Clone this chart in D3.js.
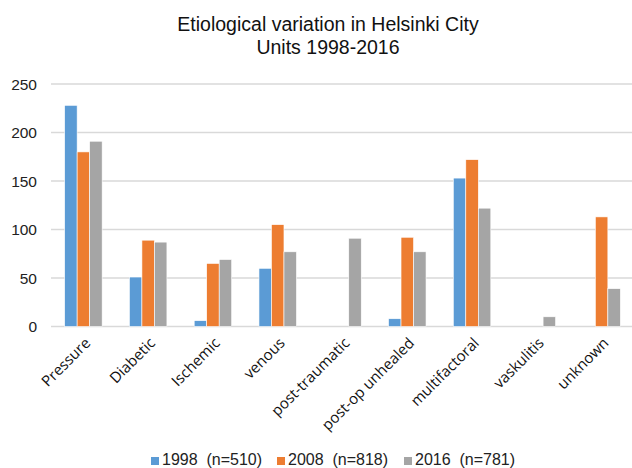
<!DOCTYPE html>
<html>
<head>
<meta charset="utf-8">
<script src="https://cdn.jsdelivr.net/npm/d3@7"></script>
<style>
  body { margin: 0; background: #fff; }
  svg { display: block; }
</style>
</head>
<body>
<div id="chart"></div>
<script>
// etiology categories along the x axis
const categories = ["Pressure", "Diabetic", "Ischemic", "venous", "post-traumatic",
  "post-op unhealed", "multifactoral", "vaskulitis", "unknown"];

// one array per year (0 = no bar)
const values1998 = [228, 51, 6, 60, 0, 8, 153, 0, 0];
const values2008 = [180, 89, 65, 105, 0, 92, 172, 0, 113];
const values2016 = [191, 87, 69, 77, 91, 77, 122, 10, 39];

const seriesNames = ["1998  (n=510)", "2008  (n=818)", "2016  (n=781)"];
const colors = ["#5B9BD5", "#ED7D31", "#A5A5A5"];
const yTicks = [0, 50, 100, 150, 200, 250];

const W = 632, H = 468;
const plotLeft = 51, plotRight = 634, plotTop = 84, plotBottom = 326.5;

const svg = d3.select("#chart").append("svg")
  .attr("width", W).attr("height", H)
  .style("font-family", "'Liberation Sans', Arial, sans-serif");

// title
const title = svg.append("text")
  .attr("text-anchor", "middle")
  .attr("font-size", 19.5).attr("fill", "#111");
title.append("tspan").attr("x", 328).attr("y", 31).text("Etiological variation in Helsinki City");
title.append("tspan").attr("x", 328).attr("y", 54).text("Units 1998-2016");

const x = d3.scaleBand().domain(categories).range([plotLeft, plotRight]).padding(0);
const y = d3.scaleLinear().domain([0, 250]).range([plotBottom, plotTop]);

// gridlines
svg.append("g").selectAll("line")
  .data(yTicks)
  .enter().append("line")
  .attr("x1", plotLeft).attr("x2", W)
  .attr("y1", d => y(d)).attr("y2", d => y(d))
  .attr("stroke", "#d9d9d9")
  .attr("stroke-width", d => d === 0 ? 1.6 : 1.3);

// y labels
svg.append("g").selectAll("text")
  .data(yTicks)
  .enter().append("text")
  .attr("x", 37).attr("y", d => y(d) + 5.5)
  .attr("text-anchor", "end")
  .attr("font-size", 15.5).attr("fill", "#222")
  .text(d => d);

const series = [values1998, values2008, values2016];
const groupW = 37.5;
const xs = d3.scaleBand().domain([0, 1, 2]).range([0, groupW]);

series.forEach(function(vals, s) {
  const pts = vals.map((v, i) => ({ cat: categories[i], v: v })).filter(d => d.v > 0);
  svg.append("g").selectAll("rect")
    .data(pts)
    .enter().append("rect")
    .attr("x", d => x(d.cat) + (x.bandwidth() - groupW) / 2 + xs(s))
    .attr("width", xs.bandwidth())
    .attr("y", d => y(d.v))
    .attr("height", d => y(0) - y(d.v))
    .attr("fill", colors[s])
    .attr("stroke", "#fff")
    .attr("stroke-width", 0.6);
});

// category labels, rotated
svg.append("g").selectAll("text")
  .data(categories)
  .enter().append("text")
  .attr("transform", d => "translate(" + (x(d) + x.bandwidth() / 2 + 8) + "," + 344 + ") rotate(-45)")
  .attr("text-anchor", "end")
  .attr("font-family", "'Open Sans', sans-serif")
  .attr("font-size", 15).attr("fill", "#111")
  .text(d => d);

// legend
const legendX = [151, 277, 404];
const lg = svg.append("g");
seriesNames.forEach(function(name, i) {
  lg.append("rect")
    .attr("x", legendX[i]).attr("y", 457)
    .attr("width", 8).attr("height", 8)
    .attr("fill", colors[i]);
  lg.append("text")
    .attr("x", legendX[i] + 11).attr("y", 465)
    .attr("font-size", 16).attr("fill", "#222")
    .style("white-space", "pre")
    .text(name);
});
</script>
</body>
</html>
